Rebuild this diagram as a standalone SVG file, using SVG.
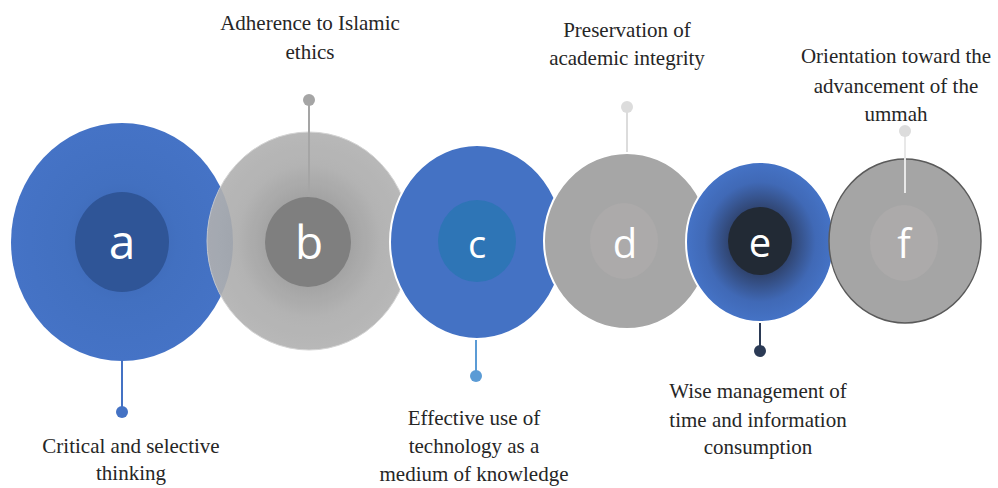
<svg xmlns="http://www.w3.org/2000/svg" width="998" height="488" viewBox="0 0 998 488">
<defs>
<radialGradient id="gA" cx="0.5" cy="0.5" r="0.5"><stop offset="0" stop-color="#3a63ad"/><stop offset="0.5" stop-color="#4270c0"/><stop offset="1" stop-color="#4573c6"/></radialGradient>
<radialGradient id="gB" cx="0.5" cy="0.5" r="0.5"><stop offset="0.35" stop-color="#979797"/><stop offset="0.7" stop-color="#ababab"/><stop offset="1" stop-color="#b1b1b1"/></radialGradient>
<radialGradient id="gE" cx="0.5" cy="0.5" r="0.5"><stop offset="0.38" stop-color="#2e4068"/><stop offset="0.75" stop-color="#4069b6"/><stop offset="1" stop-color="#4573c6"/></radialGradient>
</defs>
<style>
.lbl{font-family:"Liberation Serif","Times New Roman",serif;font-size:21px;fill:#262626;text-anchor:middle}
.let{font-family:"Open Sans","Liberation Sans",sans-serif;fill:#ffffff;text-anchor:middle}
.edge{stroke:#ffffff;stroke-width:2}
</style>
<rect width="998" height="488" fill="#ffffff"/>
<g id="node-a">
<ellipse cx="122" cy="242" rx="111" ry="119" fill="url(#gA)"/>
<ellipse cx="122" cy="242" rx="47" ry="50" fill="#2f5597"/>
<text class="let" x="122" y="259" font-size="48">a</text>
<text class="lbl" x="131" y="453">Critical and selective</text>
<text class="lbl" x="131" y="480">thinking</text>
</g>
<g id="node-b">
<ellipse cx="309" cy="241" rx="102" ry="109" fill="url(#gB)" opacity="0.9" stroke="#d0d0d0" stroke-width="1"/>
<ellipse cx="308" cy="242" rx="43" ry="45" fill="#7f7f7f"/>
<text class="let" x="309" y="259" font-size="46">b</text>
<text class="lbl" x="310" y="30">Adherence to Islamic</text>
<text class="lbl" x="310" y="59">ethics</text>
</g>
<g id="node-c">
<ellipse cx="477" cy="242" rx="87" ry="97" fill="#4472c4" class="edge"/>
<ellipse cx="477" cy="241" rx="39" ry="41" fill="#2e75b6"/>
<text class="let" x="477" y="258" font-size="38">c</text>
<text class="lbl" x="474" y="425">Effective use of</text>
<text class="lbl" x="474" y="453">technology as a</text>
<text class="lbl" x="474" y="481">medium of knowledge</text>
</g>
<g id="node-d">
<ellipse cx="627" cy="241" rx="83" ry="88" fill="#a6a6a6" class="edge"/>
<ellipse cx="624" cy="241" rx="34" ry="38" fill="#acaaaa"/>
<text class="let" x="625" y="258" font-size="40">d</text>
<text class="lbl" x="627" y="37">Preservation of</text>
<text class="lbl" x="627" y="65">academic integrity</text>
</g>
<g id="node-e">
<ellipse cx="760" cy="242" rx="74" ry="80" fill="url(#gE)" class="edge"/>
<ellipse cx="760" cy="241" rx="32" ry="34" fill="#222a35"/>
<text class="let" x="760" y="257" font-size="40">e</text>
<text class="lbl" x="758" y="398">Wise management of</text>
<text class="lbl" x="758" y="427">time and information</text>
<text class="lbl" x="758" y="454">consumption</text>
</g>
<g id="node-f">
<ellipse cx="905" cy="241" rx="76" ry="82" fill="#a5a5a5" stroke="#5a5a5a" stroke-width="1.5"/>
<ellipse cx="904" cy="243" rx="34" ry="38" fill="#acaaaa"/>
<text class="let" x="904" y="258" font-size="40">f</text>
<text class="lbl" x="896" y="63">Orientation toward the</text>
<text class="lbl" x="896" y="93">advancement of the</text>
<text class="lbl" x="896" y="121">ummah</text>
</g>
<g id="connectors" stroke-width="2">
<line x1="122" y1="361" x2="122" y2="412" stroke="#4472c4"/>
<circle cx="122" cy="412" r="6" fill="#4472c4" stroke="none"/>
<line x1="309" y1="100" x2="309" y2="196" stroke="#a5a5a5"/>
<circle cx="309" cy="100" r="6" fill="#a5a5a5" stroke="none"/>
<line x1="476" y1="340" x2="476" y2="376" stroke="#5b9bd5"/>
<circle cx="476" cy="376" r="6" fill="#5b9bd5" stroke="none"/>
<line x1="627" y1="107" x2="627" y2="152" stroke="#dcdcdc"/>
<circle cx="627" cy="107" r="6" fill="#dcdcdc" stroke="none"/>
<line x1="760" y1="323" x2="760" y2="351" stroke="#2b3a55"/>
<circle cx="760" cy="351" r="6" fill="#2b3a55" stroke="none"/>
<line x1="905" y1="131" x2="905" y2="193" stroke="#e8e8e8"/>
<circle cx="905" cy="131" r="6" fill="#dcdcdc" stroke="none"/>
</g>
</svg>
